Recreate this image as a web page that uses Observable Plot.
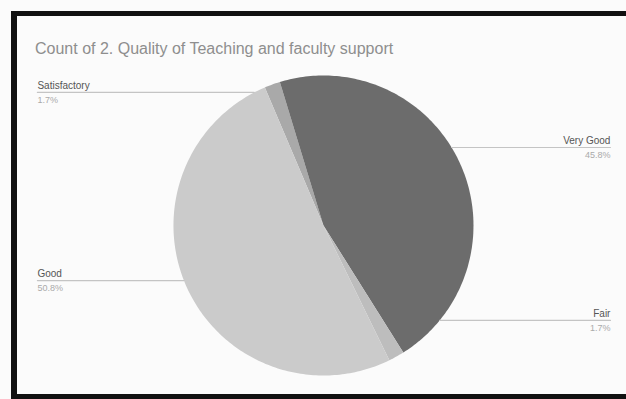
<!DOCTYPE html>
<html>
<head>
<meta charset="utf-8">
<script src="https://cdn.jsdelivr.net/npm/d3@7"></script>
<script src="https://cdn.jsdelivr.net/npm/@observablehq/plot@0.6"></script>
<style>
  html, body { margin: 0; padding: 0; background: #fbfbfb; }
  #wrap { position: relative; width: 626px; height: 399px; overflow: hidden; font-family: "Liberation Sans", Arial, sans-serif; }
  #chart { position: absolute; left: 0; top: 0; }
  #title { position: absolute; left: 35px; top: 40px; font-size: 16px; color: #8e8e8e; white-space: nowrap; }
  #frame { position: absolute; left: 11px; top: 11px; width: 640px; height: 378px;
           border-left: 6px solid #111; border-top: 5px solid #111; border-bottom: 6px solid #111; pointer-events: none; }
</style>
</head>
<body>
<div id="wrap">
  <div id="chart"></div>
  <div id="title">Count of 2. Quality of Teaching and faculty support</div>
  <div id="frame"></div>
</div>
<script>
// Data (clockwise order as drawn)
const categories = ["Satisfactory", "Very Good", "Fair", "Good"];
const counts = [1, 27, 1, 30];
const percentLabels = ["1.7%", "45.8%", "1.7%", "50.8%"];
const colors = ["#a9a9a9", "#6c6c6c", "#bdbdbd", "#cbcbcb"];

// Layout (not data)
const startAngleDeg = -23;
const labelLayout = [
  {key: "Satisfactory", side: "left",  y: 0.887},
  {key: "Very Good",    side: "right", y: 0.52},
  {key: "Fair",         side: "right", y: -0.633},
  {key: "Good",         side: "left",  y: -0.367}
];
const labelX = {left: -1.907, right: 1.913};

const total = d3.sum(counts);
const toRad = Math.PI / 180;

// Build slice polygons from the counts
const slicePts = [];
let a0 = startAngleDeg;
categories.forEach((k, i) => {
  const sweep = counts[i] / total * 360;
  const a1 = a0 + sweep;
  slicePts.push({key: k, x: 0, y: 0});
  const n = Math.max(2, Math.ceil(sweep));
  for (let j = 0; j <= n; j++) {
    const a = (a0 + sweep * j / n) * toRad;
    slicePts.push({key: k, x: Math.sin(a), y: Math.cos(a)});
  }
  a0 = a1;
});

// Leader lines and labels
const leaderPts = [];
const labelRows = [];
labelLayout.forEach(l => {
  const i = categories.indexOf(l.key);
  const edge = Math.sqrt(Math.max(0, 1 - l.y * l.y)) * (l.side === "left" ? -1 : 1);
  leaderPts.push({key: l.key, x: labelX[l.side], y: l.y});
  leaderPts.push({key: l.key, x: edge, y: l.y});
  labelRows.push({key: l.key, pct: percentLabels[i], x: labelX[l.side], y: l.y,
                  anchor: l.side === "left" ? "start" : "end"});
});

const plot = Plot.plot({
  width: 626,
  height: 399,
  margin: 0,
  x: {domain: [-2.153, 2.02], axis: null},
  y: {domain: [-1.16, 1.5], axis: null},
  color: {domain: categories, range: colors},
  style: {background: "transparent", fontFamily: "Liberation Sans, Arial, sans-serif"},
  marks: [
    Plot.line(slicePts, {x: "x", y: "y", z: "key", fill: "key", stroke: "none"}),
    Plot.line(leaderPts, {x: "x", y: "y", z: "key", stroke: "#c4c4c4", strokeWidth: 1.2}),
    Plot.text(labelRows.filter(d => d.anchor === "start"), {x: "x", y: "y", text: "key", textAnchor: "start", dy: -7, fontSize: 10, fill: "#555"}),
    Plot.text(labelRows.filter(d => d.anchor === "end"), {x: "x", y: "y", text: "key", textAnchor: "end", dy: -7, fontSize: 10, fill: "#555"}),
    Plot.text(labelRows.filter(d => d.anchor === "start"), {x: "x", y: "y", text: "pct", textAnchor: "start", dy: 8, fontSize: 9, fill: "#aaa"}),
    Plot.text(labelRows.filter(d => d.anchor === "end"), {x: "x", y: "y", text: "pct", textAnchor: "end", dy: 8, fontSize: 9, fill: "#aaa"})
  ]
});
document.getElementById("chart").appendChild(plot);
</script>
</body>
</html>
